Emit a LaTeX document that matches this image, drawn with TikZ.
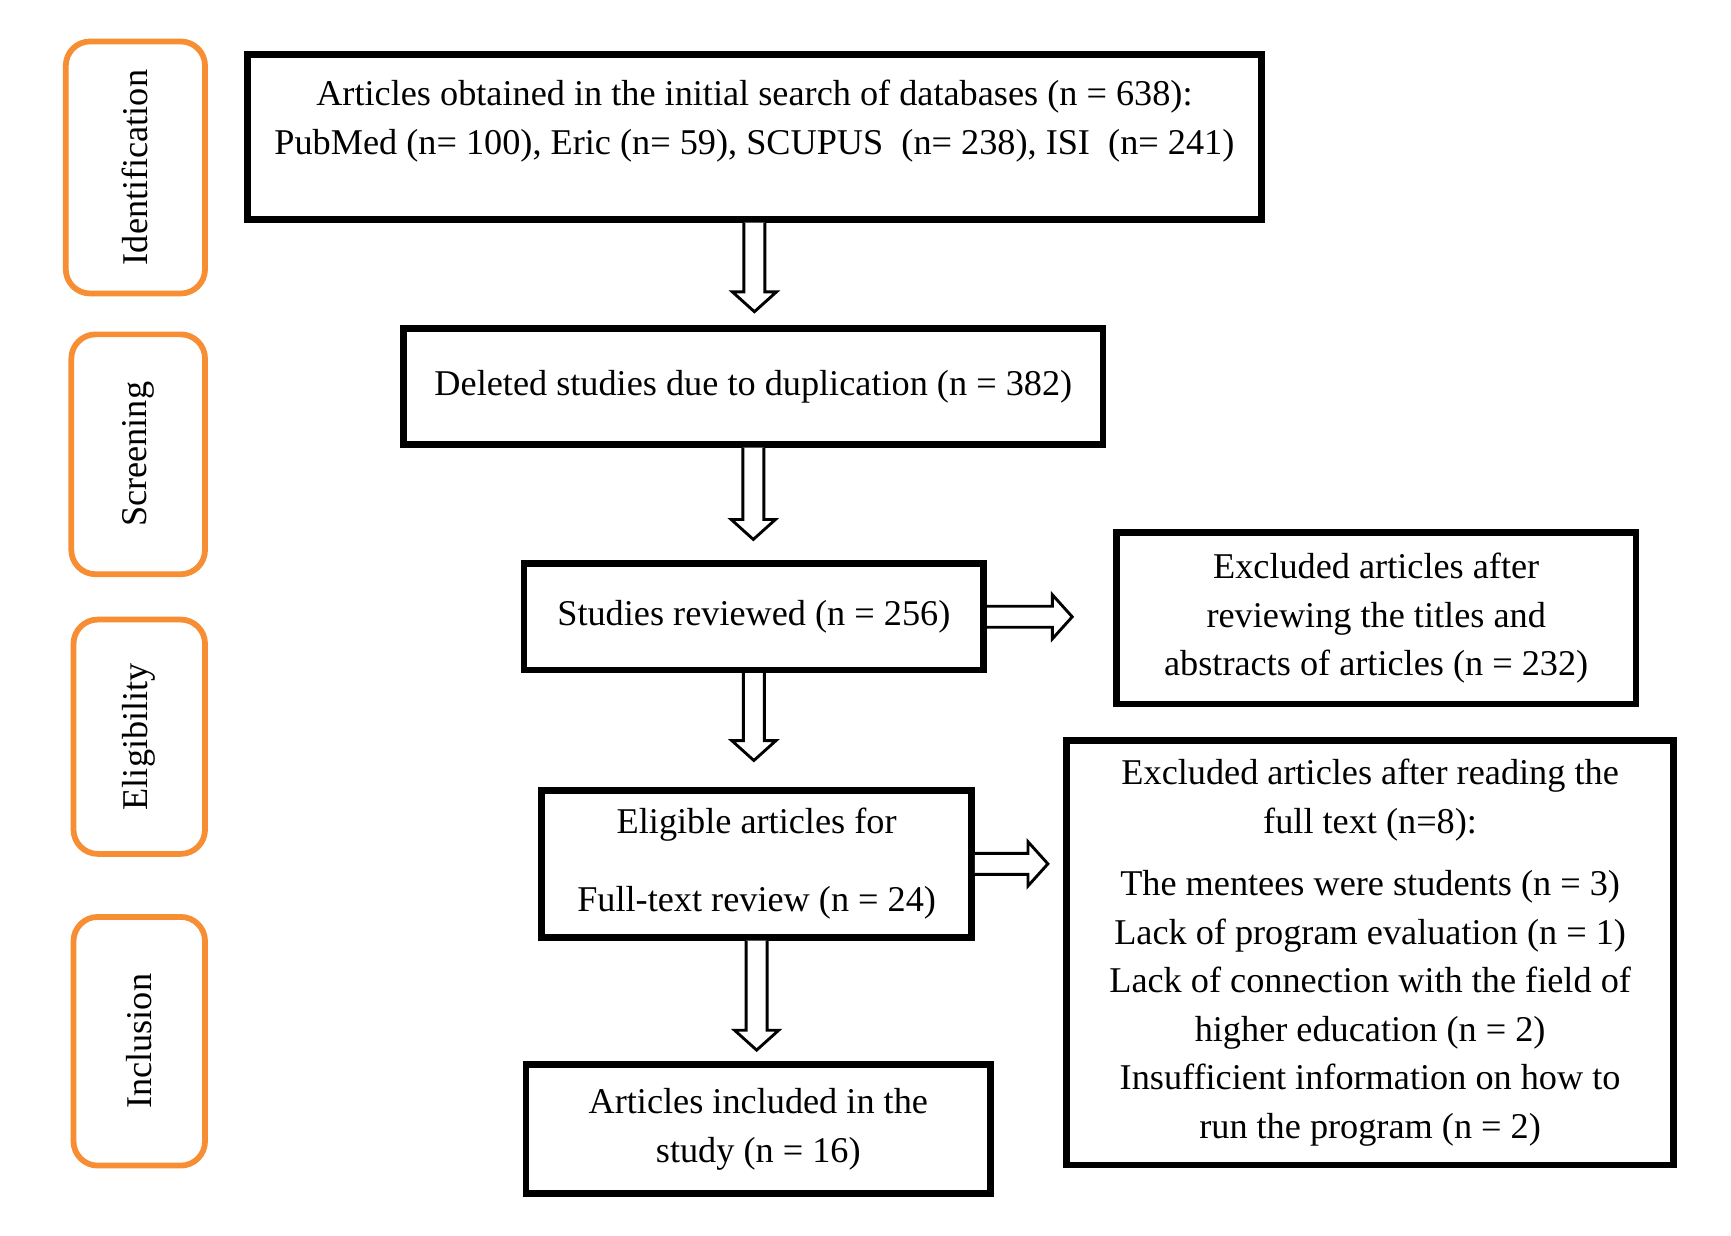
\documentclass[tikz,border=0pt]{standalone}
\usepackage{fontspec}
\setmainfont{Liberation Serif}
\usetikzlibrary{calc}
\definecolor{stageorange}{RGB}{247,142,52}
\tikzset{
  box/.style={draw=black, line width=3pt, align=center, inner sep=0pt,
    font=\fontsize{16.4}{22}\selectfont},
  stage/.style={draw=stageorange, line width=2.6pt, rounded corners=11pt, inner sep=0pt},
  stagetext/.style={rotate=90, font=\fontsize{16.4}{20}\selectfont},
  blockarr/.style={draw=black, line width=1.3pt, fill=white, miter limit=10}
}
\newcommand\downarr[3]{%
  \draw[blockarr] let \p1=(#1.south), \p2=(#2.north) in
  (\x1-4.75pt,\y1) -- (\x1-4.75pt,\y2+#3+9pt) -- (\x1-10pt,\y2+#3+9pt) -- (\x1,\y2+#3)
  -- (\x1+10pt,\y2+#3+9pt) -- (\x1+4.75pt,\y2+#3+9pt) -- (\x1+4.75pt,\y1);}
\newcommand\rightarr[3]{%
  \draw[blockarr] let \p1=(#1.east), \p2=(#2.west) in
  (\x1,\y1+4.75pt) -- (\x2-#3-9pt,\y1+4.75pt) -- (\x2-#3-9pt,\y1+10pt) -- (\x2-#3,\y1)
  -- (\x2-#3-9pt,\y1-10pt) -- (\x2-#3-9pt,\y1-4.75pt) -- (\x1,\y1-4.75pt);}
\begin{document}
\begin{tikzpicture}[x=0.5pt,y=-0.5pt]
\useasboundingbox[fill=white] (0,0) rectangle (1566,1118);

% stage labels
\node[stage, minimum width=63pt, minimum height=114pt] (sI) at (122.5,151.5) {};
\node[stagetext] (tI) at (sI.center) {Identification};
\node[stage, minimum width=60.5pt, minimum height=108.5pt] (sS) at (125,411) {};
\node[stagetext] (tS) at (sS.center) {Screening};
\node[stage, minimum width=59.5pt, minimum height=106pt] (sE) at (126,666.5) {};
\node[stagetext] (tE) at (sE.center) {Eligibility};
\node[stage, minimum width=59.5pt, minimum height=112.5pt] (sN) at (126,942) {};
\node[stagetext] (tN) at (sN.center) {Inclusion};

% boxes
\node[box, minimum width=458.5pt, minimum height=74.5pt] (b1) at (682.5,124)
  {Articles obtained in the initial search of databases (n = 638):\\
   PubMed (n= 100), Eric (n= 59), SCUPUS\enspace(n= 238), ISI\enspace(n= 241)\\[-4pt]\mbox{}};
\node[box, minimum width=316.5pt, minimum height=52.5pt] (b2) at (681.5,349.5)
  {Deleted studies due to duplication (n = 382)};
\node[box, minimum width=208pt, minimum height=48pt] (b3) at (682,558)
  {Studies reviewed (n = 256)};
\node[box, minimum width=235pt, minimum height=77.5pt] (b4) at (1245,559.5)
  {Excluded articles after\\ reviewing the titles and\\ abstracts of articles (n = 232)};
\node[box, minimum width=194.5pt, minimum height=66.5pt] (b5) at (684.5,781.5)
  {Eligible articles for\\[13.5pt] Full-text review (n = 24)};
\node[box, minimum width=274.5pt, minimum height=192pt] (b6) at (1239.5,862)
  {Excluded articles after reading the\\ full text (n=8):\\[6pt]
   The mentees were students (n = 3)\\ Lack of program evaluation (n = 1)\\
   Lack of connection with the field of\\ higher education (n = 2)\\
   Insufficient information on how to\\ run the program (n = 2)};
\node[box, minimum width=210pt, minimum height=58.5pt] (b7) at (686,1021.5)
  {Articles included in the\\ study (n = 16)};

% arrows
\downarr{b1}{b2}{6pt}
\downarr{b2}{b3}{9.5pt}
\downarr{b3}{b5}{12pt}
\downarr{b5}{b7}{5pt}
\rightarr{b3}{b4}{18.5pt}
\rightarr{b5}{b6}{7pt}
\end{tikzpicture}
\end{document}
